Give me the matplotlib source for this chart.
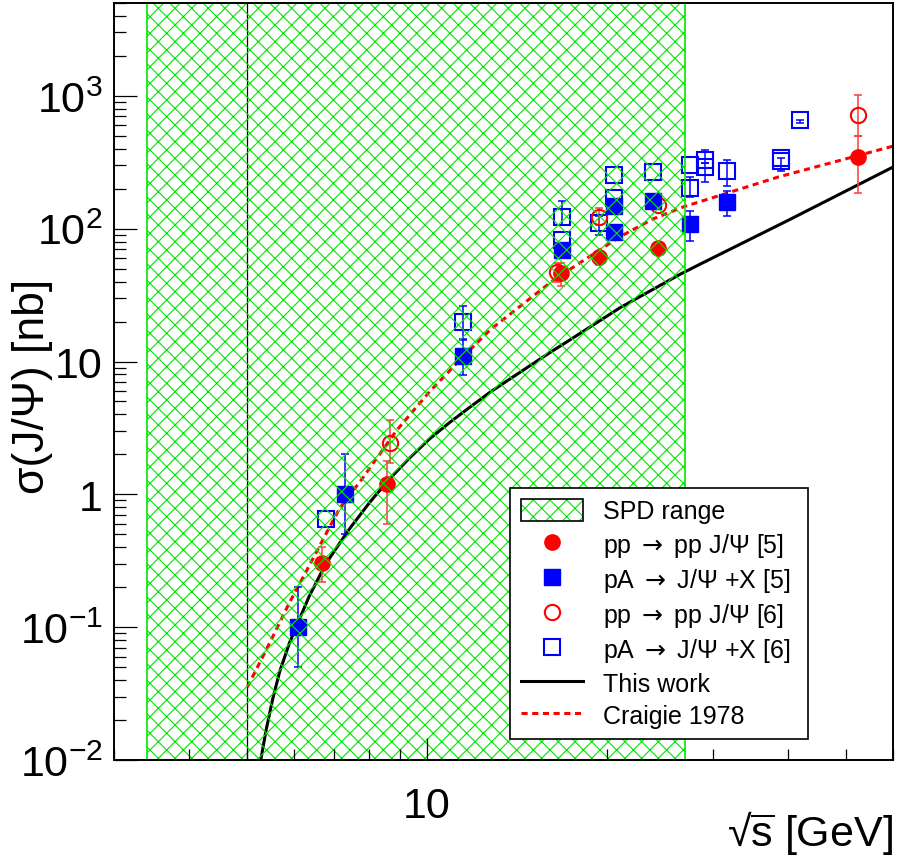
import matplotlib
matplotlib.use("Agg")
import matplotlib.pyplot as plt
from matplotlib.patches import Patch
from matplotlib.lines import Line2D
from matplotlib.legend_handler import HandlerTuple
from matplotlib.ticker import FixedLocator, FixedFormatter, NullFormatter, LogLocator

plt.rcParams['font.family'] = ['Liberation Sans', 'DejaVu Sans']
plt.rcParams['mathtext.fontset'] = 'custom'
plt.rcParams['mathtext.rm'] = 'Liberation Sans'
plt.rcParams['mathtext.it'] = 'Liberation Sans:italic'
plt.rcParams['mathtext.bf'] = 'Liberation Sans:bold'
plt.rcParams['mathtext.sf'] = 'DejaVu Sans'
plt.rcParams['hatch.linewidth'] = 0.8

# ---------------- data ----------------
# SPD range and the vertical marker line (GeV)
spd_range = [3.4, 27.0]
vline_x = 5.0

# pp -> pp J/Psi [5]  (filled circles)
pp5_x = [6.68, 8.58, 16.75, 19.39, 24.31, 52.5]
pp5_y = [0.305, 1.2, 46.4, 61.0, 71.6, 346.0]
pp5_lo = [0.085, 0.6, 9.4, 8.0, 0.0, 159.0]
pp5_hi = [0.095, 0.57, 8.6, 0.0, 0.0, 156.0]

# pA -> J/Psi + X [5]  (filled squares)
pa5_x = [6.08, 7.29, 11.49, 16.80, 20.5, 20.5, 23.83, 27.46, 31.64]
pa5_y = [0.1, 1.0, 11.0, 69.0, 95.0, 147.0, 162.0, 108.0, 158.0]
pa5_lo = [0.05, 0.5, 3.1, 0.0, 0.0, 0.0, 0.0, 27.0, 34.0]
pa5_hi = [0.1, 1.0, 3.6, 0.0, 0.0, 0.0, 0.0, 27.0, 34.0]

# pp -> pp J/Psi [6]  (open circles)
pp6_x = [8.68, 16.47, 19.39, 24.31, 52.5]
pp6_y = [2.43, 47.5, 122.0, 151.0, 713.0]
pp6_lo = [0.7, 8.0, 15.0, 0.0, 211.0]
pp6_hi = [1.17, 8.0, 20.0, 0.0, 297.0]

# pA -> J/Psi + X [6]  (open squares)
pa6_x = [6.78, 11.49, 16.80, 16.80, 19.39, 20.5, 20.5, 23.83, 27.46, 27.46,
         29.15, 29.15, 31.64, 39.0, 39.0, 41.9]
pa6_y = [0.65, 20.0, 82.7, 122.0, 110.0, 169.0, 255.0, 268.0, 303.0, 202.0,
         330.0, 291.0, 270.0, 325.0, 340.0, 661.0]
pa6_lo = [0.0, 5.2, 0.0, 15.0, 20.0, 0.0, 0.0, 0.0, 0.0, 28.0,
          20.0, 65.0, 60.0, 55.0, 0.0, 40.0]
pa6_hi = [0.0, 6.0, 0.0, 39.0, 15.0, 0.0, 0.0, 0.0, 0.0, 44.0,
          59.0, 20.0, 60.0, 15.0, 0.0, 0.0]

# "This work" curve
work_x = [5.28, 5.38, 5.52, 5.67, 5.89, 6.12, 6.36, 6.65, 6.87, 7.42, 8.02,
          8.66, 9.35, 10.1, 10.92, 11.79, 12.74, 13.76, 14.86, 16.05, 17.22,
          21.03, 26.52, 28.63, 40.16, 60.0]
work_y = [0.0102, 0.0165, 0.0285, 0.0459, 0.076, 0.115, 0.172, 0.255,
          0.330, 0.55, 0.87, 1.31, 1.88, 2.62, 3.49, 4.53, 5.87, 7.40,
          9.31, 11.7, 14.3, 25.5, 45.6, 54.3, 116.0, 291.0]

# Craigie 1978 curve
craigie_x = [5.01, 5.21, 5.52, 5.89, 6.28, 6.87, 7.14, 7.81, 8.89, 10.1,
             11.49, 12.74, 16.26, 19.4, 21.0, 23.8, 26.8, 28.6, 38.6, 60.0]
craigie_y = [0.0354, 0.0501, 0.0842, 0.153, 0.262, 0.565, 0.78, 1.33, 3.02,
             5.94, 10.9, 17.3, 41.0, 69.0, 87.0, 118.0, 146.0, 160.0, 245.0,
             418.0]

x_major = [10]
x_major_labels = ['10']
y_major = [1e-2, 1e-1, 1, 10, 100, 1000]
y_major_labels = [r'$10^{-2}$', r'$10^{-1}$', '1', '10', r'$10^{2}$', r'$10^{3}$']

ARROW = r'$\mathsf{\rightarrow}$'
legend_labels = ['SPD range',
                 'pp ' + ARROW + ' pp J/\u03a8 [5]',
                 'pA ' + ARROW + ' J/\u03a8 +X [5]',
                 'pp ' + ARROW + ' pp J/\u03a8 [6]',
                 'pA ' + ARROW + ' J/\u03a8 +X [6]',
                 'This work',
                 'Craigie 1978']

# ---------------- figure ----------------
W, H = 901, 862
fig = plt.figure(figsize=(W / 100, H / 100), dpi=100)
ax = fig.add_axes([114 / W, 1 - 761 / H, (893 - 114) / W, (761 - 4) / H])
ax.set_xscale('log')
ax.set_yscale('log')
ax.set_xlim(3.0, 60.0)
ax.set_ylim(0.01, 5000)

GREEN = '#00e600'
RED = '#ff0000'
RED_ERR = '#ff3b3b'
BLUE = '#0000ff'
MS = 11

ax.axvline(vline_x, color='black', lw=0.9, zorder=2)

ax.plot(work_x, work_y, color='black', lw=2.2, zorder=3)
ax.plot(craigie_x, craigie_y, color=RED, lw=2.2, ls=(0, (2.0, 1.5)), zorder=3)


def draw_series(xs, ys, lo, hi, marker, color, ecolor, filled):
    # error bars only where an error is visible (like ROOT, no caps inside markers)
    keep = [i for i in range(len(xs)) if lo[i] > 0 or hi[i] > 0]
    if keep:
        ax.errorbar([xs[i] for i in keep], [ys[i] for i in keep],
                    yerr=[[lo[i] for i in keep], [hi[i] for i in keep]],
                    fmt='none', ecolor=ecolor, elinewidth=1.1, capsize=3,
                    capthick=1.1, zorder=3.5)
    if filled:
        ax.plot(xs, ys, ls='none', marker=marker, ms=MS, mfc=color, mec=color,
                zorder=4)
    else:
        ax.plot(xs, ys, ls='none', marker=marker, ms=MS, mfc='none', mec=color,
                mew=1.5, zorder=4)


draw_series(pa6_x, pa6_y, pa6_lo, pa6_hi, 's', BLUE, BLUE, False)
draw_series(pp6_x, pp6_y, pp6_lo, pp6_hi, 'o', RED, RED_ERR, False)
draw_series(pa5_x, pa5_y, pa5_lo, pa5_hi, 's', BLUE, BLUE, True)
draw_series(pp5_x, pp5_y, pp5_lo, pp5_hi, 'o', RED, RED_ERR, True)

# hatched SPD range drawn on top of the data, like the reference
ax.axvspan(spd_range[0], spd_range[1], facecolor='none', edgecolor=GREEN,
           hatch='xx', lw=1.2, zorder=4.5)

# axes styling
for sp in ax.spines.values():
    sp.set_linewidth(1.4)
    sp.set_zorder(6)
ax.xaxis.set_zorder(6)
ax.yaxis.set_zorder(6)

ax.xaxis.set_major_locator(FixedLocator(x_major))
ax.xaxis.set_major_formatter(FixedFormatter(x_major_labels))
ax.xaxis.set_minor_locator(LogLocator(base=10, subs=range(2, 10), numticks=20))
ax.xaxis.set_minor_formatter(NullFormatter())
ax.yaxis.set_major_locator(FixedLocator(y_major))
ax.yaxis.set_major_formatter(FixedFormatter(y_major_labels))
ax.yaxis.set_minor_locator(LogLocator(base=10, subs=range(2, 10), numticks=20))
ax.yaxis.set_minor_formatter(NullFormatter())

ax.tick_params(axis='both', which='both', direction='in', top=False, right=False,
               width=0.9, color='black')
ax.tick_params(axis='x', which='major', length=16, pad=19, labelsize=31)
ax.tick_params(axis='x', which='minor', length=8)
ax.tick_params(axis='y', which='major', length=16.5, pad=8, labelsize=31)
ax.tick_params(axis='y', which='minor', length=8.6)

fig.text(33 / W, 1 - 386 / H, '\u03c3(J/\u03a8) [nb]', rotation=90,
         ha='center', va='center', fontsize=32)
fig.text(893 / W, 1 - 833 / H, '\u221a' + r'$\overline{\mathrm{s}}$ [GeV]',
         ha='right', va='center', fontsize=31)

# legend
h_spd = (Patch(facecolor='white', edgecolor=GREEN, hatch='xx', lw=0),
         Patch(facecolor='none', edgecolor='black', lw=1.2))
handles = [
    h_spd,
    Line2D([], [], marker='o', ls='none', color=RED, ms=MS),
    Line2D([], [], marker='s', ls='none', color=BLUE, ms=MS),
    Line2D([], [], marker='o', ls='none', color=RED, mfc='none', mew=1.5, ms=MS),
    Line2D([], [], marker='s', ls='none', color=BLUE, mfc='none', mew=1.5, ms=MS),
    Line2D([], [], color='black', lw=2.2),
    Line2D([], [], color=RED, lw=2.2, ls=(0, (2.0, 1.5))),
]
leg = ax.legend(handles, legend_labels, loc='upper left',
                bbox_to_anchor=(510 / W, 1 - 735 / H, 298 / W, 246 / H),
                bbox_transform=fig.transFigure, mode='expand',
                borderaxespad=0, fontsize=18, handlelength=2.5, handleheight=1.0,
                handletextpad=0.8, labelspacing=0.29, borderpad=0.42,
                fancybox=False, framealpha=1, edgecolor='black', numpoints=1,
                handler_map={tuple: HandlerTuple(ndivide=1, pad=0)})
leg.get_frame().set_linewidth(1.2)
leg.set_zorder(10)

fig.savefig('out.png', dpi=100)
